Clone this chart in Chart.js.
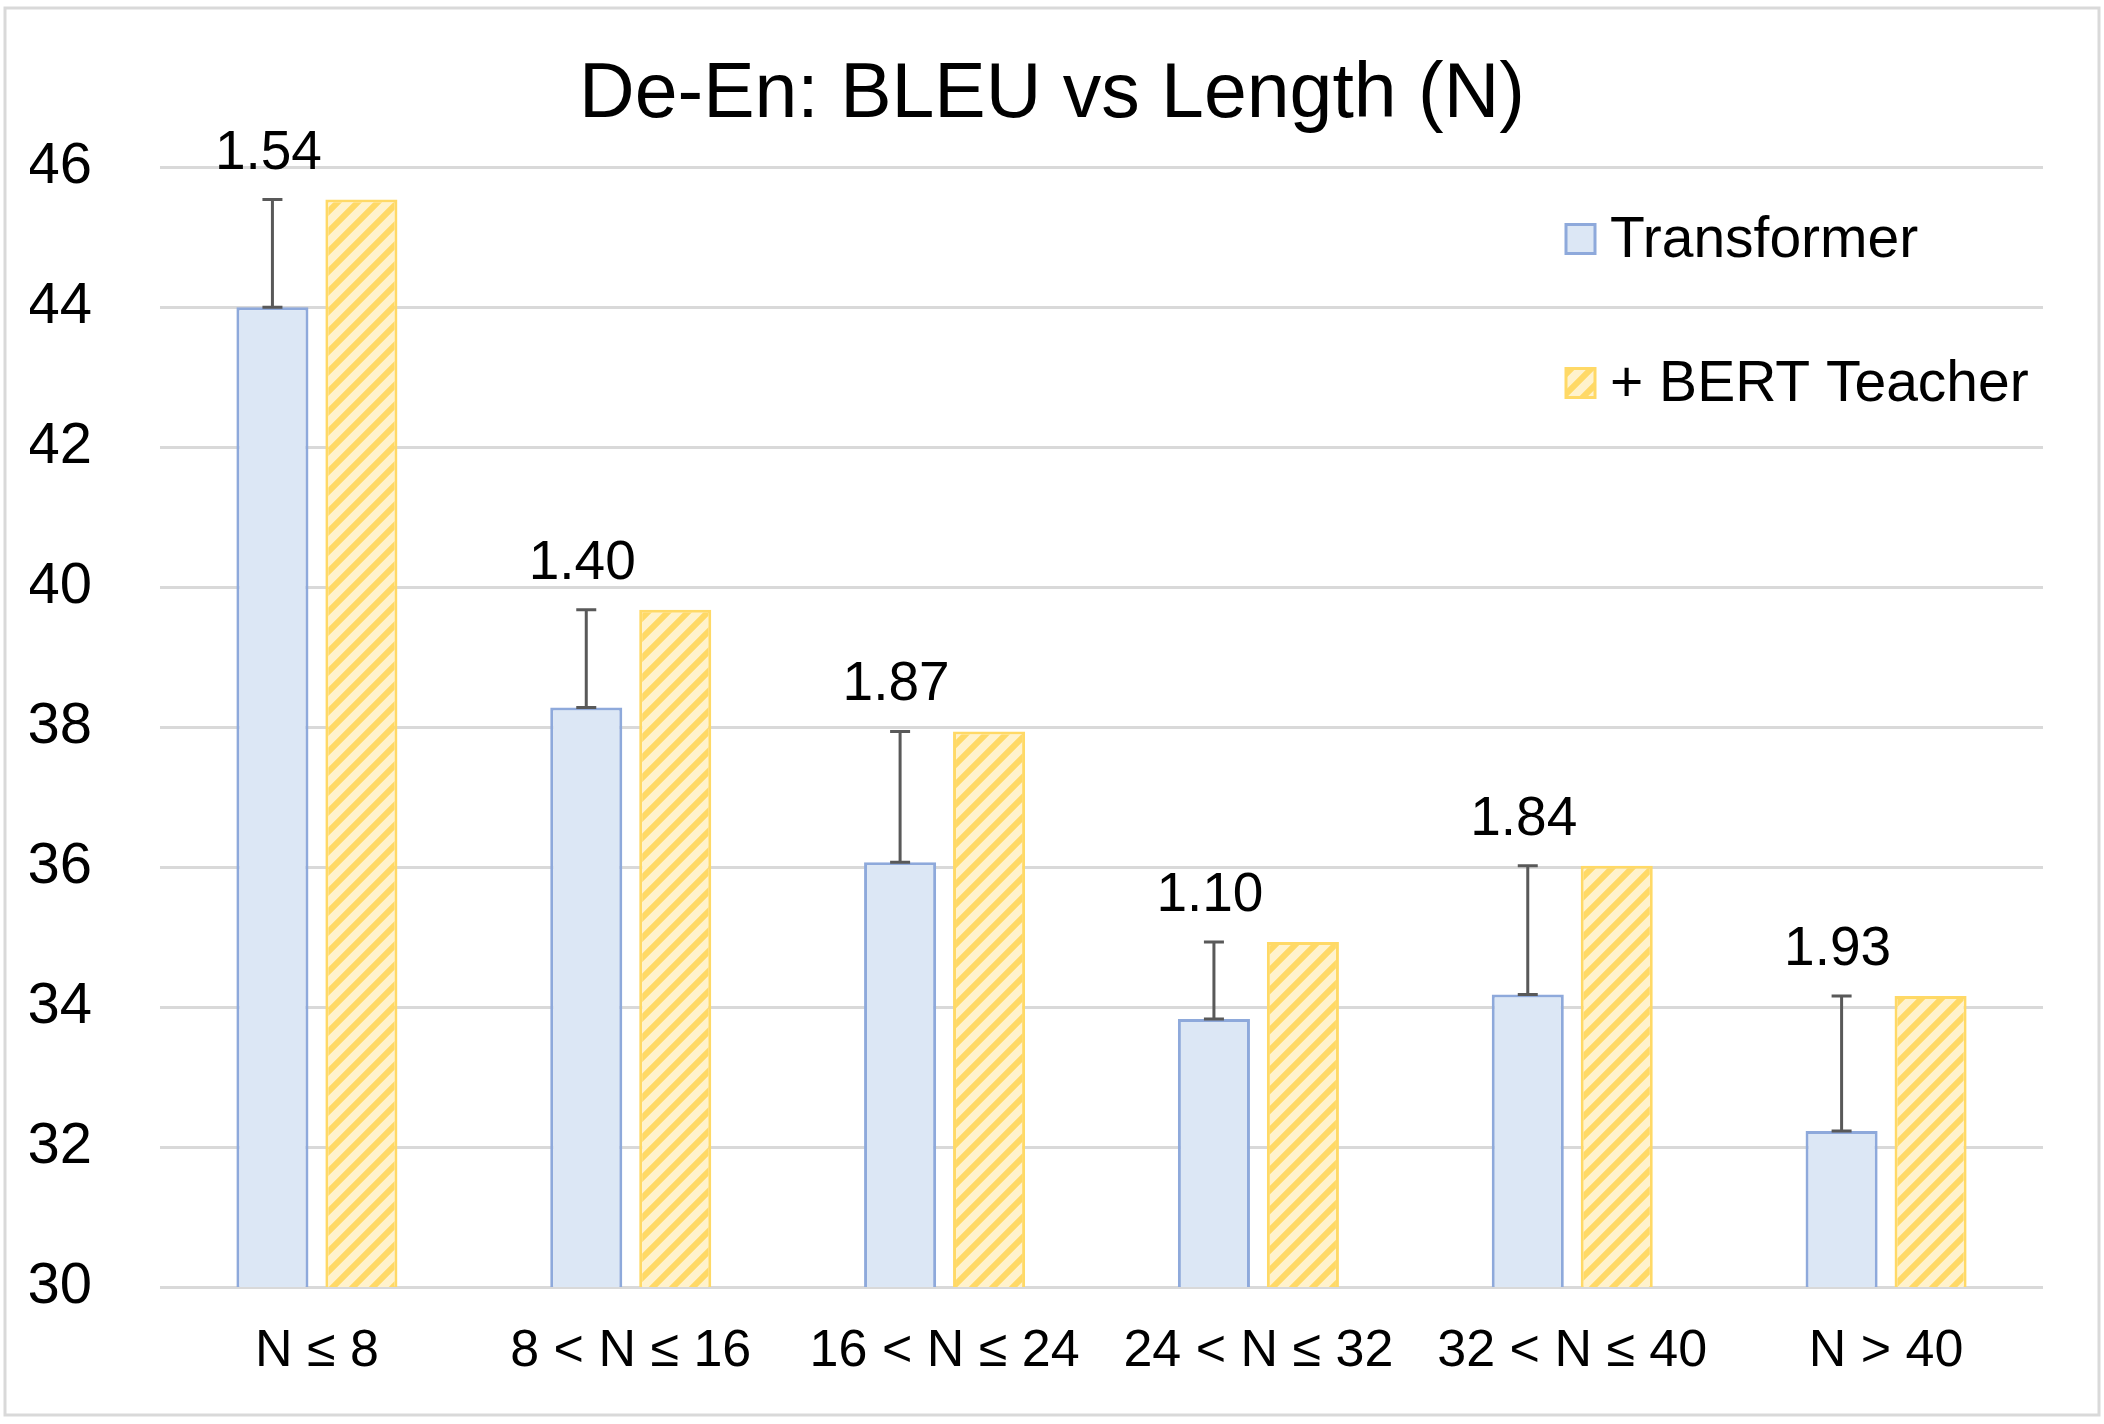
<!DOCTYPE html>
<html>
<head>
<meta charset="utf-8">
<title>De-En: BLEU vs Length (N)</title>
<script src="https://cdn.jsdelivr.net/npm/chart.js@4.4.0/dist/chart.umd.min.js"></script>
<style>
  html, body { margin: 0; padding: 0; background: #fff; }
  #wrap { width: 2104px; height: 1424px; }
</style>
</head>
<body>
<div id="wrap"><canvas id="barChart" width="2104" height="1424"></canvas></div>
<script>
// Data
const categories = ['N ≤ 8', '8 < N ≤ 16', '16 < N ≤ 24', '24 < N ≤ 32', '32 < N ≤ 40', 'N > 40'];
const transformerScores = [44.00, 38.28, 36.07, 33.83, 34.18, 32.23];
const teacherScores = [45.54, 39.68, 37.94, 34.93, 36.02, 34.16];
const gainLabels = ['1.54', '1.40', '1.87', '1.10', '1.84', '1.93'];
const seriesNames = ['Transformer', '+ BERT Teacher'];
const yMin = 30;
const yMax = 46;
const yStep = 2;

const fontFamily = '"Liberation Sans", Arial, sans-serif';
Chart.defaults.font.family = fontFamily;
Chart.defaults.color = '#000';

const blueFill = '#DCE7F5';
const blueLine = '#8EA9DB';
const yellowLine = '#FFD966';
const yellowLight = '#FFF2CC';

const canvas = document.getElementById('barChart');
const ctx = canvas.getContext('2d');

// Upward diagonal stripes for the teacher bars
function makeStripes() {
    const size = 20;
    const tile = document.createElement('canvas');
    tile.width = size;
    tile.height = size;
    const t = tile.getContext('2d');
    t.fillStyle = yellowLight;
    t.fillRect(0, 0, size, size);
    t.strokeStyle = yellowLine;
    t.lineWidth = 6;
    t.beginPath();
    t.moveTo(-5, size + 5); t.lineTo(size + 5, -5);
    t.moveTo(-5, 5); t.lineTo(5, -5);
    t.moveTo(size - 5, size + 5); t.lineTo(size + 5, size - 5);
    t.stroke();
    return ctx.createPattern(tile, 'repeat');
}
const stripes = makeStripes();

// White page with a thin grey frame
const framePlugin = {
    id: 'frame',
    beforeDraw(chart) {
        const c = chart.ctx;
        c.save();
        c.fillStyle = '#fff';
        c.fillRect(0, 0, chart.width, chart.height);
        c.strokeStyle = '#D9D9D9';
        c.lineWidth = 3;
        c.strokeRect(5, 8, chart.width - 10, chart.height - 17);
        c.restore();
    }
};

// Error bar from the Transformer bar up to the teacher score, with the gain on top
const gainPlugin = {
    id: 'gain',
    afterDatasetsDraw(chart) {
        const c = chart.ctx;
        const yScale = chart.scales.y;
        const meta = chart.getDatasetMeta(0);
        c.save();
        c.strokeStyle = '#595959';
        c.lineWidth = 3;
        c.fillStyle = '#000';
        c.font = '55px ' + fontFamily;
        c.textAlign = 'center';
        c.textBaseline = 'alphabetic';
        meta.data.forEach((bar, i) => {
            const x = bar.x;
            const yLow = yScale.getPixelForValue(transformerScores[i]);
            const yHigh = yScale.getPixelForValue(teacherScores[i]);
            c.beginPath();
            c.moveTo(x, yLow); c.lineTo(x, yHigh);
            c.moveTo(x - 10, yLow); c.lineTo(x + 10, yLow);
            c.moveTo(x - 10, yHigh); c.lineTo(x + 10, yHigh);
            c.stroke();
            c.fillText(gainLabels[i], x - 4, yHigh - 31);
        });
        c.restore();
    }
};

// Legend sitting inside the plot area, top right
const legendPlugin = {
    id: 'insideLegend',
    afterDraw(chart) {
        const c = chart.ctx;
        const boxX = 1566;
        const rows = [239, 383];
        const box = 29;
        c.save();
        c.font = '57px ' + fontFamily;
        c.textAlign = 'left';
        c.textBaseline = 'middle';
        chart.data.datasets.forEach((ds, i) => {
            const cy = rows[i];
            c.fillStyle = ds.backgroundColor;
            c.fillRect(boxX, cy - box / 2, box, box);
            c.strokeStyle = ds.borderColor;
            c.lineWidth = 3;
            c.strokeRect(boxX, cy - box / 2, box, box);
            c.fillStyle = '#000';
            c.fillText(ds.label, boxX + 44, cy + 2);
        });
        c.restore();
    }
};

const chart = new Chart(ctx, {
    type: 'bar',
    data: {
        labels: categories,
        datasets: [
            {
                label: seriesNames[0],
                data: transformerScores,
                backgroundColor: blueFill,
                borderColor: blueLine,
                borderWidth: 3,
                categoryPercentage: 0.567,
                barPercentage: 0.81
            },
            {
                label: seriesNames[1],
                data: teacherScores,
                backgroundColor: stripes,
                borderColor: yellowLine,
                borderWidth: 3,
                categoryPercentage: 0.567,
                barPercentage: 0.81
            }
        ]
    },
    options: {
        responsive: false,
        animation: false,
        devicePixelRatio: 1,
        layout: {
            padding: { left: 30, right: 30, top: 0, bottom: 43 }
        },
        plugins: {
            legend: { display: false },
            tooltip: { enabled: false },
            title: {
                display: true,
                text: 'De-En: BLEU vs Length (N)',
                color: '#000',
                font: { size: 77, weight: 'normal' },
                padding: { top: 50, bottom: 25 }
            }
        },
        scales: {
            x: {
                grid: { display: false },
                border: { display: false },
                afterFit(scale) { scale.height = 94; },
                ticks: {
                    color: '#000',
                    font: { size: 52 },
                    padding: 25,
                    maxRotation: 0,
                    autoSkip: false
                }
            },
            y: {
                min: yMin,
                max: yMax,
                grid: { color: '#D9D9D9', lineWidth: 3, drawTicks: false },
                border: { display: false },
                afterFit(scale) { scale.width = 130; },
                ticks: {
                    stepSize: yStep,
                    color: '#000',
                    font: { size: 58 },
                    padding: 68
                }
            },
            // empty strip on the right so the title stays centred on the page
            yRight: {
                type: 'linear',
                position: 'right',
                grid: { display: false },
                border: { display: false },
                ticks: { display: false },
                afterFit(scale) { scale.width = 31; }
            }
        }
    },
    plugins: [framePlugin, gainPlugin, legendPlugin]
});
</script>
</body>
</html>
